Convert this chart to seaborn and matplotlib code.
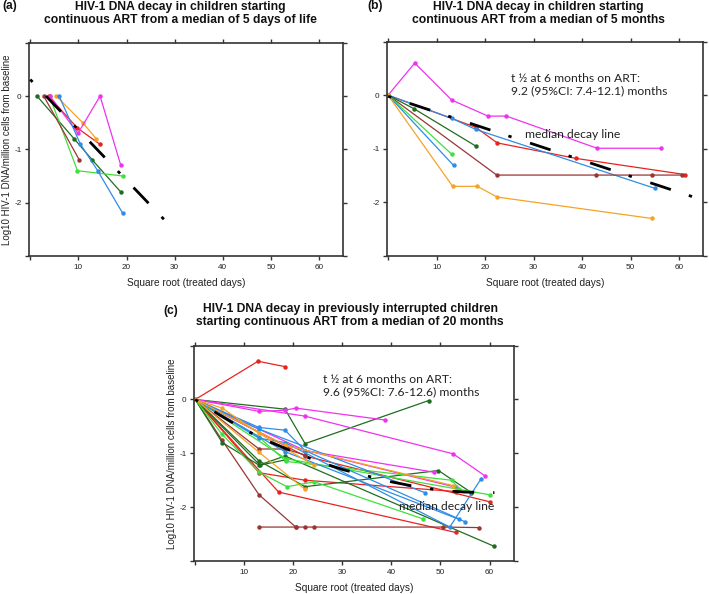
import matplotlib
matplotlib.use("Agg")
import matplotlib.pyplot as plt
import pandas as pd
import seaborn as sns

PALETTE = {
    "red": "#e8231f",
    "brown": "#9b3535",
    "dgreen": "#1f6e1f",
    "lgreen": "#3de03d",
    "magenta": "#f032f0",
    "blue": "#2e8de6",
    "orange": "#f6a324",
}

# panel (a): children starting ART at a median of 5 days of life
A_COLORS = ["dgreen", "lgreen", "brown", "red", "orange", "magenta", "blue"]
A_X = [[1.4, 9.1, 12.9, 18.8], [4.0, 9.8, 19.3], [2.8, 10.2], [3.8, 9.8, 14.4],
       [5.4, 10.9, 13.7], [4.1, 9.9, 14.5, 18.8], [6.0, 10.4, 14.0, 19.2]]
A_Y = [[0, -0.8, -1.2, -1.8], [0, -1.4, -1.5], [0, -1.2], [0, -0.6, -0.9],
       [0, -0.5, -0.8], [0, -0.7, 0, -1.3], [0, -0.9, -1.4, -2.2]]
A_MED_X = [0, 29]
A_MED_Y = [0.31, -2.43]

# panel (b): children starting ART at a median of 5 months
B_COLORS = ["magenta", "red", "blue", "brown", "dgreen", "lgreen", "blue", "orange"]
B_X = [[0, 5.5, 13.1, 20.6, 24.4, 43.1, 56.2], [0, 18.1, 22.5, 38.8, 61.2],
       [0, 13.1, 18.1, 55.1], [0, 22.4, 42.9, 54.4, 60.5], [0, 5.3, 18.1],
       [0, 13.1], [0, 13.5], [0, 13.3, 18.4, 22.5, 54.4]]
B_Y = [[0, 0.6, -0.09, -0.39, -0.39, -0.99, -0.99], [0, -0.6, -0.89, -1.18, -1.48],
       [0, -0.43, -0.64, -1.74], [0, -1.49, -1.49, -1.49, -1.49], [0, -0.25, -0.95],
       [0, -1.1], [0, -1.31], [0, -1.7, -1.7, -1.9, -2.3]]
B_MED_X = [0, 65]
B_MED_Y = [-0.02, -1.96]

# panel (c): previously interrupted children, ART at a median of 20 months
C_COLORS = ["red", "red", "red", "red", "brown", "brown", "brown",
            "dgreen", "dgreen", "dgreen", "dgreen",
            "magenta", "magenta", "magenta", "magenta",
            "lgreen", "lgreen", "lgreen",
            "blue", "blue", "blue", "blue", "orange", "orange", "orange"]
C_X = [[0, 12.8, 18.3], [0, 13, 22.4, 53.1], [0, 22.4, 60], [0, 17, 53.1],
       [0, 5.5, 13, 20.5], [13, 20.5, 22.4, 24.2, 50.5, 57.9], [0, 13, 18.3, 22.4],
       [0, 18.3, 22.4, 47.6], [0, 5.5, 13, 18.3, 61], [0, 13, 22.4, 49.6, 56.3],
       [0, 13.2, 18.5],
       [0, 13, 18.3, 20.5, 38.6], [0, 22.4, 52.6, 59.1], [0, 22.4, 48.6], [0, 18.3, 53.1],
       [0, 5.5, 13, 18.7, 24.3, 46.5], [0, 13, 18.5, 52.3, 53.8], [0, 18.5, 60],
       [0, 13, 18.3, 22.4, 53.8], [0, 13, 18.3, 51.9, 58.3], [0, 13, 46.8], [0, 18.3, 55],
       [0, 5.5, 13, 24.2], [0, 13, 22.4], [0, 18.3, 52.6]]
C_Y = [[0, 0.71, 0.61], [0, -1.36, -1.5, -1.71], [0, -1.05, -1.9], [0, -1.72, -2.47],
       [0, -0.76, -1.77, -2.37], [-2.37, -2.37, -2.37, -2.37, -2.37, -2.38], [0, -0.92, -0.92, -1.03],
       [0, -0.18, -0.82, -0.02], [0, -0.8, -1.22, -1.05, -2.73], [0, -1.14, -1.62, -1.32, -1.73],
       [0, -1.22, -1.12],
       [0, -0.22, -0.2, -0.16, -0.38], [0, -0.31, -1.01, -1.42], [0, -0.95, -1.35], [0, -0.85, -1.63],
       [0, -0.65, -1.35, -1.62, -1.53, -2.22], [0, -0.7, -1.15, -1.5, -1.66], [0, -1.1, -1.77],
       [0, -0.52, -0.57, -0.95, -2.22], [0, -0.72, -0.8, -2.37, -1.47], [0, -0.55, -1.73], [0, -0.97, -2.27],
       [0, -0.16, -0.63, -1.22], [0, -0.98, -1.67], [0, -0.85, -1.6]]
C_MED_X = [0, 5, 10, 15, 20, 25, 30, 35, 40, 45, 50, 55, 61]
C_MED_Y = [0, -0.29, -0.56, -0.78, -0.97, -1.15, -1.3, -1.42, -1.53, -1.62, -1.69, -1.72, -1.73]

X_TICKS = [0, 10, 20, 30, 40, 50, 60]
X_LABELS = ["", "10", "20", "30", "40", "50", "60"]
Y_TICKS = [1, 0, -1, -2, -3]
Y_LABELS = ["", "0", "-1", "-2", ""]

MED_DASH = (0, (1.2, 7.0, 7.8, 6.8))
SPINE = "#333333"


def to_frame(colors, xs, ys):
    rows = []
    for i, (c, x, y) in enumerate(zip(colors, xs, ys)):
        for xi, yi in zip(x, y):
            rows.append({"sid": f"s{i}", "color": c, "x": xi, "y": yi})
    return pd.DataFrame(rows)


def draw_panel(ax, colors, xs, ys, mx, my):
    df = to_frame(colors, xs, ys)
    pal = {s: PALETTE[c] for s, c in df[["sid", "color"]].drop_duplicates().values}
    sns.lineplot(data=df, x="x", y="y", hue="sid", units="sid", estimator=None,
                 palette=pal, sort=False, legend=False, marker="o", markersize=3.2,
                 markeredgewidth=0, linewidth=0.9, ax=ax)
    ax.plot(mx, my, color="black", lw=2.0, linestyle=MED_DASH,
            dash_capstyle="butt", zorder=5)
    ax.set_xlim(-0.2, 65)
    ax.set_ylim(-3, 1)
    ax.set_xticks(X_TICKS, X_LABELS)
    ax.set_yticks(Y_TICKS, Y_LABELS)
    ax.tick_params(direction="out", length=3, width=1, color=SPINE, labelsize=5.9,
                   labelcolor="#222222", top=True, right=True, pad=2.5)
    for sp in ax.spines.values():
        sp.set_color(SPINE)
        sp.set_linewidth(1.2)
    ax.set_xlabel("Square root (treated days)", fontsize=7.3, labelpad=5.5, color="#222222")
    ax.set_ylabel("")


sns.set_theme(style="ticks")
plt.rcParams["font.family"] = ["Liberation Sans", "DejaVu Sans"]

fig = plt.figure(figsize=(7.09, 5.94), dpi=100)
ax_a = fig.add_axes([0.0413, 0.569, 0.443, 0.359])
ax_b = fig.add_axes([0.546, 0.569, 0.446, 0.361])
ax_c = fig.add_axes([0.274, 0.0556, 0.451, 0.3625])

draw_panel(ax_a, A_COLORS, A_X, A_Y, A_MED_X, A_MED_Y)
draw_panel(ax_b, B_COLORS, B_X, B_Y, B_MED_X, B_MED_Y)
draw_panel(ax_c, C_COLORS, C_X, C_Y, C_MED_X, C_MED_Y)

ylab = "Log10 HIV-1 DNA/million cells from baseline"
ax_a.set_ylabel(ylab, fontsize=7.0, labelpad=2, color="#222222")
ax_c.set_ylabel(ylab, fontsize=7.0, labelpad=2, color="#222222")

note_font = ["Lato", "DejaVu Sans"]
ax_b.text(25.3, 0.2, "t \u00bd at 6 months on ART:\n9.2 (95%CI: 7.4-12.1) months",
          fontsize=8.7, family=note_font, va="center", ha="left", linespacing=1.2,
          color="#222222")
ax_b.text(28.3, -0.73, "median decay line", fontsize=8.7, family=note_font, va="center",
          color="#222222")
ax_c.text(26.1, 0.26, "t \u00bd at 6 months on ART:\n9.6 (95%CI: 7.6-12.6) months",
          fontsize=8.7, family=note_font, va="center", ha="left", linespacing=1.2,
          color="#222222")
ax_c.text(41.6, -1.99, "median decay line", fontsize=8.7, family=note_font, va="center",
          color="#222222")

title_kw = dict(fontsize=8.7, fontweight="bold", ha="center", va="center", linespacing=1.12,
                color="#111111")
fig.text(0.255, 0.977, "HIV-1 DNA decay in children starting\ncontinuous ART from a median of 5 days of life", **title_kw)
fig.text(0.759, 0.977, "HIV-1 DNA decay in children starting\ncontinuous ART from a median of 5 months", **title_kw)
fig.text(0.494, 0.469, "HIV-1 DNA decay in previously interrupted children\nstarting continuous ART from a median of 20 months", **title_kw)

lab_kw = dict(fontsize=8.7, fontweight="bold", ha="left", va="center", color="#111111")
fig.text(0.004, 0.99, "(a)", **lab_kw)
fig.text(0.518, 0.99, "(b)", **lab_kw)
fig.text(0.23, 0.477, "(c)", **lab_kw)

fig.savefig("out.png", dpi=100, facecolor="white")
